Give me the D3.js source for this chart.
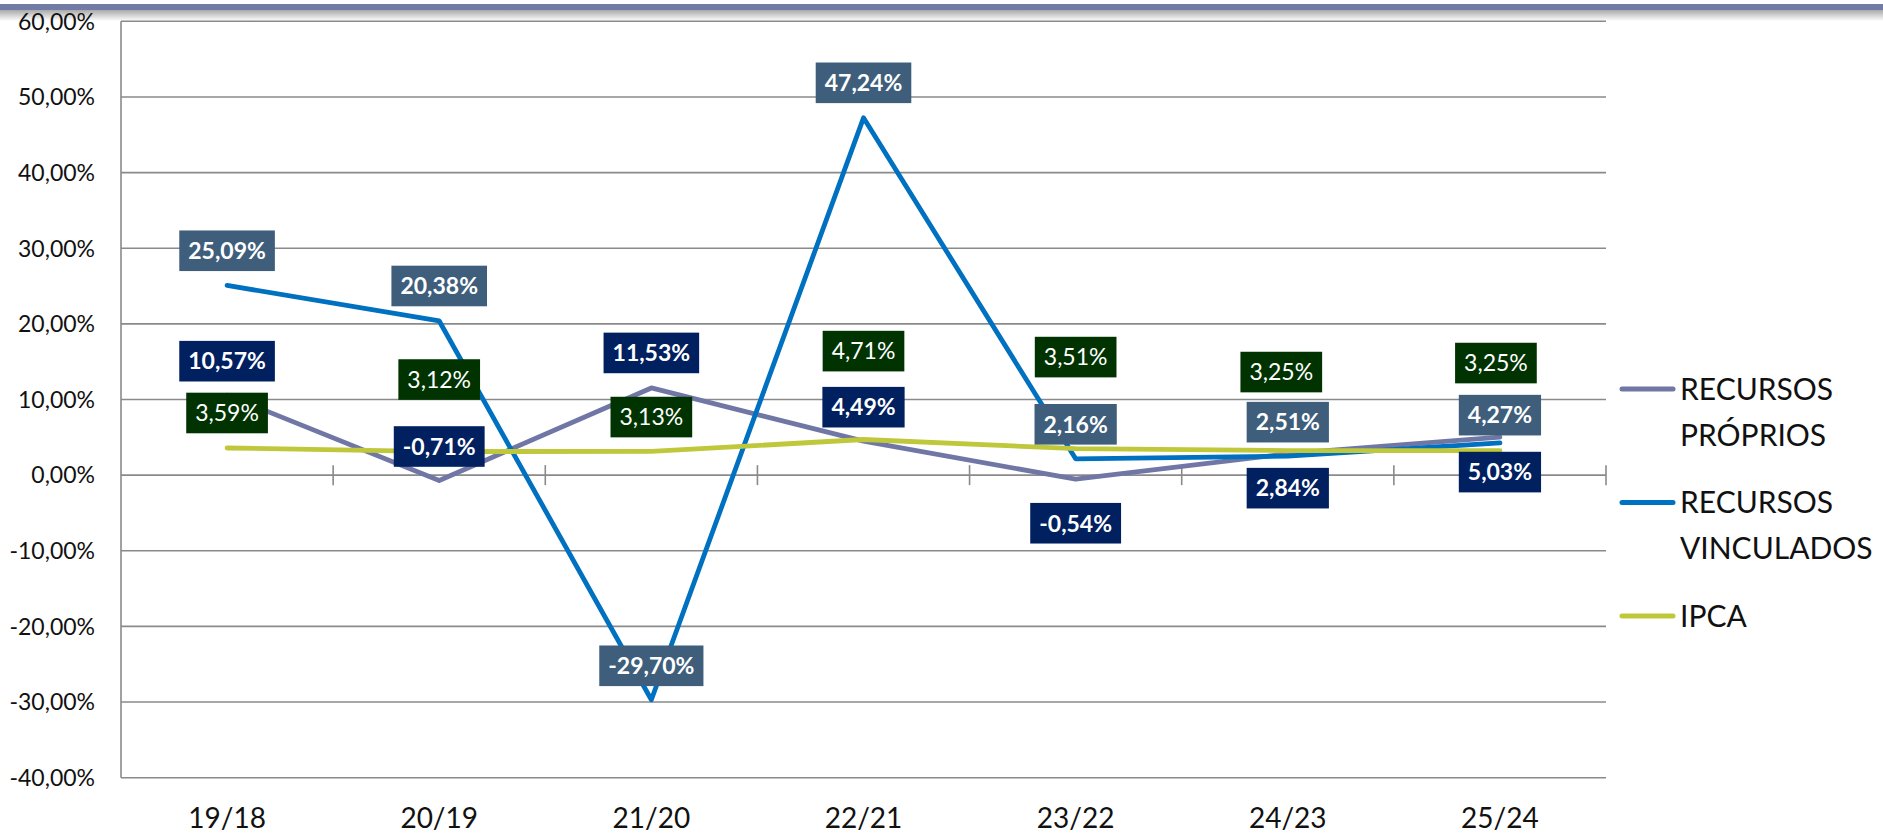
<!DOCTYPE html>
<meta charset="utf-8">
<head>
  <title>Recursos x IPCA</title>
</head>

<style>
body {
    margin: 0;
    background: #fff;
}
svg {
    display: block;
    font-family: Lato, "Open Sans", sans-serif;
}
.grid line {
    stroke: #8a8a8a;
    stroke-width: 1.6;
}
.serie {
    fill: none;
    stroke-width: 4.8;
    stroke-linejoin: round;
    stroke-linecap: round;
}
</style>

<body>
  <svg width="1883" height="833"></svg>

  <script src="https://cdnjs.cloudflare.com/ajax/libs/d3/7.8.5/d3.min.js"></script>
  <script>

// dados
    var periodos = ["19/18", "20/19", "21/20", "22/21", "23/22", "24/23", "25/24"];
    var recursosProprios = [10.57, -0.71, 11.53, 4.49, -0.54, 2.84, 5.03];
    var recursosVinculados = [25.09, 20.38, -29.70, 47.24, 2.16, 2.51, 4.27];
    var ipca = [3.59, 3.12, 3.13, 4.71, 3.51, 3.25, 3.25];
    var yTicks = [-40, -30, -20, -10, 0, 10, 20, 30, 40, 50, 60];

    var series = [
        {nome: ["RECURSOS", "PRÓPRIOS"], valores: recursosProprios, cor: "#7177a5",
         caixa: "#002060", negrito: true,
         // deslocamento vertical dos rotulos (px, em relacao ao ponto)
         dy: [-34, -34, -35, -34, 44, 34.5, 35], dx: [0, 0, 0, 0, 0, 0, 0]},
        {nome: ["RECURSOS", "VINCULADOS"], valores: recursosVinculados, cor: "#0070c0",
         caixa: "#3e5e7c", negrito: true,
         dy: [-34.6, -35, -34, -35, -34.5, -34, -27.7], dx: [0, 0, 0, 0, 0, 0, 0]},
        {nome: ["IPCA"], valores: ipca, cor: "#bfc83a",
         caixa: "#003300", negrito: false,
         dy: [-35, -72, -34.4, -88.4, -91.5, -78.5, -87.5], dx: [0, 0, 0, 0, 0, -6.5, -4]}
    ];

    var svg = d3.select("svg");
    var plot = {left: 121, right: 1606, top: 21.3, bottom: 777.7};

    var x = d3.scaleBand()
        .domain(periodos)
        .range([plot.left, plot.right]);

    var y = d3.scaleLinear()
        .domain([-40, 60])
        .range([plot.bottom, plot.top]);

    var fmt = function(v) {
        return v.toFixed(2).replace(".", ",") + "%";
    };

    // faixa decorativa no topo
    var defs = svg.append("defs");
    var grad = defs.append("linearGradient")
        .attr("id", "sombra")
        .attr("x1", 0).attr("y1", 0).attr("x2", 0).attr("y2", 1);
    grad.append("stop").attr("offset", "0%").attr("stop-color", "#a9a9a9");
    grad.append("stop").attr("offset", "100%").attr("stop-color", "#ffffff");

    svg.append("rect")
        .attr("x", 0).attr("y", 10).attr("width", 1883).attr("height", 11)
        .attr("fill", "url(#sombra)");
    svg.append("rect")
        .attr("x", 0).attr("y", 4).attr("width", 1883).attr("height", 6)
        .attr("fill", "#717ba6");

    // linhas de grade
    svg.append("g")
        .attr("class", "grid")
        .selectAll("line")
        .data(yTicks)
        .enter()
        .append("line")
        .attr("x1", plot.left)
        .attr("x2", plot.right)
        .attr("y1", d => y(d))
        .attr("y2", d => y(d));

    // eixo vertical
    svg.append("line")
        .attr("x1", plot.left).attr("x2", plot.left)
        .attr("y1", plot.top).attr("y2", plot.bottom)
        .attr("stroke", "#8a8a8a")
        .attr("stroke-width", 1.6);

    // marcas das categorias sobre o zero
    svg.append("g")
        .selectAll("line")
        .data(periodos)
        .enter()
        .append("line")
        .attr("x1", d => x(d) + x.bandwidth())
        .attr("x2", d => x(d) + x.bandwidth())
        .attr("y1", y(0) - 10)
        .attr("y2", y(0) + 10)
        .attr("stroke", "#8a8a8a")
        .attr("stroke-width", 1.6);

    // rotulos do eixo y
    svg.append("g")
        .selectAll("text")
        .data(yTicks)
        .enter()
        .append("text")
        .attr("x", 95)
        .attr("y", d => y(d))
        .attr("dy", "0.36em")
        .attr("text-anchor", "end")
        .attr("font-size", 23)
        .attr("fill", "#111")
        .text(d => d.toFixed(2).replace(".", ",") + "%");

    // rotulos do eixo x
    svg.append("g")
        .selectAll("text")
        .data(periodos)
        .enter()
        .append("text")
        .attr("x", d => x(d) + x.bandwidth() / 2)
        .attr("y", 828)
        .attr("text-anchor", "middle")
        .attr("font-size", 28)
        .attr("fill", "#111")
        .text(d => d);

    // linhas das series
    var line = d3.line()
        .x((d, i) => x(periodos[i]) + x.bandwidth() / 2)
        .y(d => y(d));

    series.forEach(function(s) {
        svg.append("path")
            .attr("class", "serie")
            .attr("stroke", s.cor)
            .attr("d", line(s.valores));
    });

    // rotulos de dados
    series.forEach(function(s) {
        var g = svg.append("g");
        s.valores.forEach(function(v, i) {
            var cx = x(periodos[i]) + x.bandwidth() / 2 + s.dx[i];
            var cy = y(v) + s.dy[i];
            var lbl = g.append("g");
            var rect = lbl.append("rect").attr("fill", s.caixa);
            var t = lbl.append("text")
                .attr("x", cx)
                .attr("y", cy)
                .attr("dy", "0.36em")
                .attr("text-anchor", "middle")
                .attr("font-size", 23)
                .attr("font-weight", s.negrito ? "bold" : "normal")
                .attr("fill", "#fff")
                .text(fmt(v));
            var w = t.node().getComputedTextLength() + 18;
            rect.attr("x", cx - w / 2)
                .attr("y", cy - 20.3)
                .attr("width", w)
                .attr("height", 40.6);
        });
    });

    // legenda
    var legY = [389, 502.5, 616];
    var legend = svg.append("g");
    series.forEach(function(s, k) {
        legend.append("line")
            .attr("x1", 1622).attr("x2", 1673)
            .attr("y1", legY[k]).attr("y2", legY[k])
            .attr("stroke", s.cor)
            .attr("stroke-width", 5)
            .attr("stroke-linecap", "round");
        s.nome.forEach(function(n, j) {
            legend.append("text")
                .attr("x", 1680)
                .attr("y", legY[k] + j * 46)
                .attr("dy", "0.36em")
                .attr("font-size", 30)
                .attr("fill", "#111")
                .text(n);
        });
    });

  </script>
</body>
</html>
